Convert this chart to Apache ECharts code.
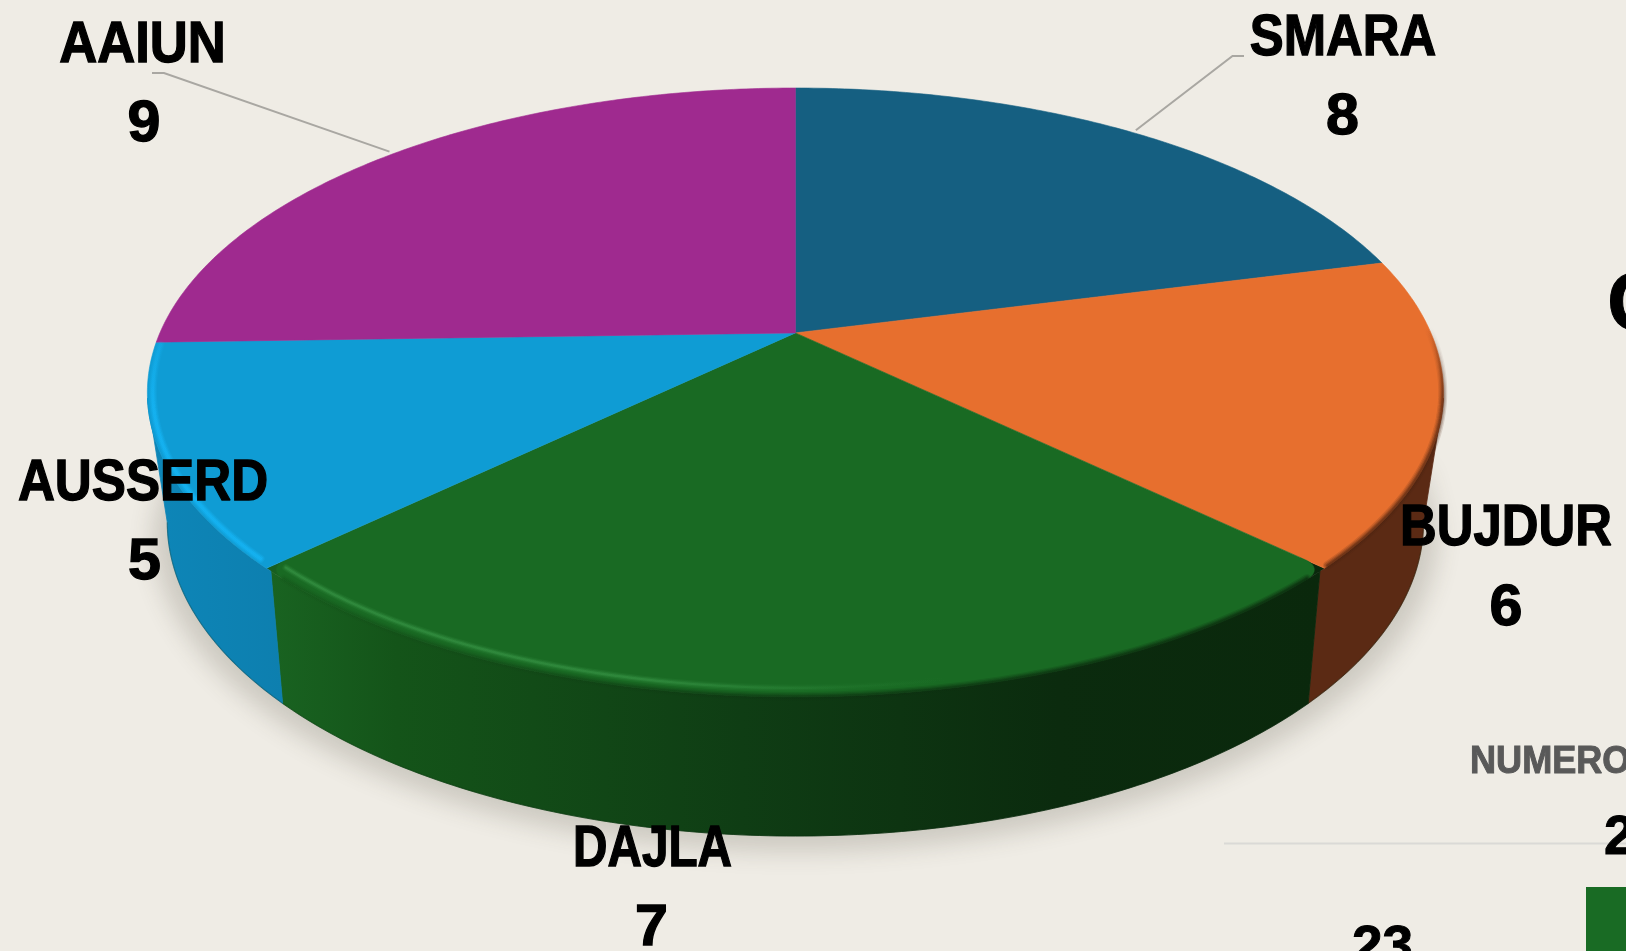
<!DOCTYPE html>
<html>
<head>
<meta charset="utf-8">
<style>html,body{margin:0;padding:0;background:#EFECE5;overflow:hidden}#c{width:1626px;height:951px}</style>
<script src="https://cdn.jsdelivr.net/npm/echarts@6/dist/echarts.min.js"></script>
</head>
<body>
<div id="c"></div>
<script>
// Data
var categories = ['SMARA', 'BUJDUR', 'DAJLA', 'AUSSERD', 'AAIUN'];
var shownValues = [8, 6, 7, 5, 9];
// Degrees each slice visibly spans in the reference (its slices are not proportional to the printed numbers)
var sliceDegrees = [75.5, 58.5, 92, 42.2, 91.8];
var sliceColors = ['#155F81', '#E76F2E', '#196A23', '#0F9CD4', '#9F2A8F'];

// Layout
var FONT = '"Liberation Sans", Arial, sans-serif';
var labelCenters = [[1343, 39], [1506, 529], [652.5, 850], [143, 484], [142.5, 46]];
var valueCenters = [[1342.5, 118], [1506, 609], [651.5, 929], [144.5, 563], [144, 125]];
var labelScaleX = [0.885, 0.885, 0.83, 0.89, 0.915];
var TOP = {cx: 795.4, cy: 332.9, a: 635.5, b: 292.8, k: 0.1956};
var BASE = {cx: 795.4, cy: 460.7, a: 616, b: 301.9, k: 0.1956};
var EDGE = 101.3; // view-tangent angle of the rim
var OFF = 3000;

function rad(d) { return d * Math.PI / 180; }
function proj(p, deg, r) {
  var t = rad(deg), w = 1 + p.k * r * Math.cos(t);
  return [p.cx + p.a * r * Math.sin(t) / w, p.cy - p.b * r * Math.cos(t) / w];
}
function arc(p, s, e, r) {
  var pts = [], n = Math.max(2, Math.ceil(Math.abs(e - s) * 1.5));
  for (var i = 0; i <= n; i++) pts.push(proj(p, s + (e - s) * i / n, r));
  return pts;
}
function startOf(i) {
  var s = 0;
  for (var j = 0; j < i; j++) s += sliceDegrees[j];
  return s;
}
function topAngle(d) { return 180 + (d - 180) * 0.987; }
var H = echarts.graphic.LinearGradient;
function hGrad(stops) {
  return new H(0, 0, 1, 0, stops.map(function (c) { return {offset: c[0], color: c[1]}; }));
}
function vGrad(stops) {
  return new H(0, 0, 0, 1, stops.map(function (c) { return {offset: c[0], color: c[1]}; }));
}
function rgba(rgb, al) { return 'rgba(' + rgb + ',' + al + ')'; }
var sideFills = [
  null,
  '#5B2A14',
  hGrad([[0, '#196321'], [0.12, '#145419'], [0.45, '#0F3D14'], [0.75, '#0B2B0E'], [1, '#0A280C']]),
  hGrad([[0, '#0D86B8'], [1, '#0D7FAF']]),
  null
];

var seriesRows = categories.map(function (c, i) {
  return {name: c, value: [sliceDegrees[i], shownValues[i], i]};
});

function renderShadow(params, api) {
  if (params.dataIndex !== 0) return null;
  var pts = arc(TOP, EDGE + 12, 360 - EDGE - 12, 0.99).concat(arc(BASE, 360 - EDGE, EDGE, 1.022));
  pts = pts.map(function (p) { return [p[0] - OFF, p[1]]; });
  return {type: 'polygon', shape: {points: pts}, style: {
    fill: '#000', shadowBlur: 24, shadowOffsetX: OFF, shadowOffsetY: 5, shadowColor: 'rgba(70,65,50,0.2)'
  }};
}
function renderSide(params, api) {
  var i = api.value(2), s = startOf(i), e = s + api.value(0);
  var ls = Math.max(s, EDGE), le = Math.min(e, 360 - EDGE);
  if (le <= ls) return null;
  var pts = arc(TOP, topAngle(ls), topAngle(le), 1).concat(arc(BASE, le, ls, 1));
  var kids = [
    {type: 'polygon', shape: {points: pts}, style: {fill: sideFills[i], stroke: sideFills[i], lineWidth: 0.8}},
    {type: 'polyline', shape: {points: arc(BASE, ls, le, 1)}, style: {fill: null, stroke: 'rgba(5,35,10,0.25)', lineWidth: 1.2}}
  ];
  if (i === 2) { // dark filler behind the rounded corners of the near slice
    kids.push({type: 'polygon', shape: {points: arc(TOP, s, s + 3.5, 0.96).concat(arc(TOP, s + 3.5, s, 1))}, style: {fill: '#0A280C'}});
    kids.push({type: 'polygon', shape: {points: arc(TOP, e - 3.5, e, 0.96).concat(arc(TOP, e, e - 3.5, 1))}, style: {fill: '#185F20'}});
  }
  return {type: 'group', children: kids};
}
function corner(s, dir, reverse) {
  var pts = [], d = 2.2, cut = 0.03;
  for (var j = 0; j <= 8; j++) {
    var u = j / 8 * Math.PI / 2;
    pts.push(proj(TOP, s + dir * d * (1 - Math.cos(u)), 1 - cut * (1 - Math.sin(u))));
  }
  return reverse ? pts.reverse() : pts;
}
function renderTop(params, api) {
  var i = api.value(2), s = startOf(i), e = s + api.value(0), col = sliceColors[i];
  var pts = [proj(TOP, 0, 0)];
  if (i === 2) {
    pts = pts.concat(corner(s, 1, false), arc(TOP, s + 2.2, e - 2.2, 1), corner(e, -1, true));
  } else {
    pts = pts.concat(arc(TOP, s, e, 1));
  }
  return {type: 'polygon', shape: {points: pts}, style: {fill: col, stroke: col, lineWidth: 0.6}};
}
function renderRim(params, api) {
  var i = api.value(2), s = startOf(i), e = s + api.value(0);
  var kids = [];
  function band(a, b, r, grad, widths) {
    widths.forEach(function (w, n) {
      kids.push({type: 'polyline', shape: {points: arc(TOP, a, b, r)}, style: {
        fill: null, stroke: grad(w[1]), lineWidth: w[0], lineCap: 'round'
      }});
    });
  }
  var SOFT = [[9, 0.14], [6.5, 0.2], [4, 0.28], [2, 0.35]];
  if (i === 1) {
    band(s + 14, e - 0.5, 0.999, function (al) {
      return vGrad([[0, rgba('75,34,15', 0)], [0.3, rgba('75,34,15', al)], [1, rgba('75,34,15', al * 1.2)]]);
    }, SOFT);
  }
  if (i === 2) {
    band(s + 2.2, e - 2.2, 0.999, function (al) {
      return hGrad([[0, rgba('20,84,25', al * 0.7)], [0.5, rgba('12,50,16', al)], [1, rgba('10,40,12', al * 1.3)]]);
    }, SOFT);
    band(e - 1, s + 1, 0.98, function (al) {
      return hGrad([[0, rgba('60,155,75', al)], [0.35, rgba('60,155,75', al * 0.95)], [0.55, rgba('60,155,75', al * 0.2)], [0.65, rgba('60,155,75', 0)], [1, rgba('60,155,75', 0)]]);
    }, [[7, 0.14], [4.5, 0.25], [2.2, 0.4]]);
  }
  if (i === 3) {
    band(s + 1.5, e - 0.5, 0.992, function (al) {
      return vGrad([[0, rgba('22,185,250', al * 0.35)], [0.3, rgba('22,185,250', al)], [1, rgba('22,185,250', al)]]);
    }, [[8, 0.2], [5.5, 0.32], [3, 0.45]]);
  }
  return kids.length ? {type: 'group', children: kids} : null;
}
function renderLabel(params, api) {
  var i = api.value(2), lc = labelCenters[i], vc = valueCenters[i], kids = [];
  if (i === 0 || i === 4) {
    var mid = startOf(i) + api.value(0) / 2, p0 = proj(TOP, mid, 1.012);
    var elbow = i === 0 ? [lc[0] - 110.5, lc[1] + 17] : [lc[0] + 21.5, lc[1] + 27];
    var end = i === 0 ? [lc[0] - 99, lc[1] + 17] : [lc[0] + 9.5, lc[1] + 27];
    kids.push({type: 'polyline', shape: {points: [p0, elbow, end]}, style: {fill: null, stroke: '#A9A7A2', lineWidth: 2}});
  }
  kids.push({type: 'text', x: lc[0], y: lc[1], scaleX: labelScaleX[i], style: {
    text: categories[i], font: 'bold 57.5px ' + FONT, fill: '#000', stroke: '#000', lineWidth: 1.3, align: 'center', verticalAlign: 'middle'
  }});
  kids.push({type: 'text', x: vc[0], y: vc[1], scaleX: 1.03, style: {
    text: String(api.value(1)), font: 'bold 57.5px ' + FONT, fill: '#000', stroke: '#000', lineWidth: 1.3, align: 'center', verticalAlign: 'middle'
  }});
  return {type: 'group', children: kids};
}

function customSeries(fn, z) {
  return {type: 'custom', coordinateSystem: 'none', renderItem: fn, data: seriesRows, z: z, silent: true, animation: false, clip: false};
}
function sideText(text, x, y, size, fill, sx, sw) {
  return {type: 'text', x: x, y: y, scaleX: sx || 1, silent: true, style: {
    text: text, font: 'bold ' + size + 'px ' + FONT, fill: fill, stroke: fill, lineWidth: sw || 1, align: 'left', verticalAlign: 'top'
  }};
}

var chart = echarts.init(document.getElementById('c'), null, {renderer: 'canvas', width: 1626, height: 951});
chart.setOption({
  backgroundColor: '#EFECE5',
  animation: false,
  graphic: {elements: [
    {type: 'rect', shape: {x: 1586, y: 887, width: 40, height: 64}, style: {fill: '#196B24'}, silent: true},
    {type: 'line', shape: {x1: 1224, y1: 843.5, x2: 1626, y2: 843.5}, style: {stroke: '#DAD9D6', lineWidth: 2}, silent: true},
    sideText('C', 1607, 265, 84, '#000'),
    sideText('NUMERO', 1470, 744, 38, '#595959', 0.95, 1),
    sideText('2', 1604, 811, 55, '#000'),
    sideText('23', 1352, 921, 55, '#000')
  ]},
  series: [
    customSeries(renderShadow, 1),
    customSeries(renderSide, 2),
    customSeries(renderTop, 3),
    customSeries(renderRim, 4),
    customSeries(renderLabel, 5)
  ]
});
</script>
</body>
</html>
